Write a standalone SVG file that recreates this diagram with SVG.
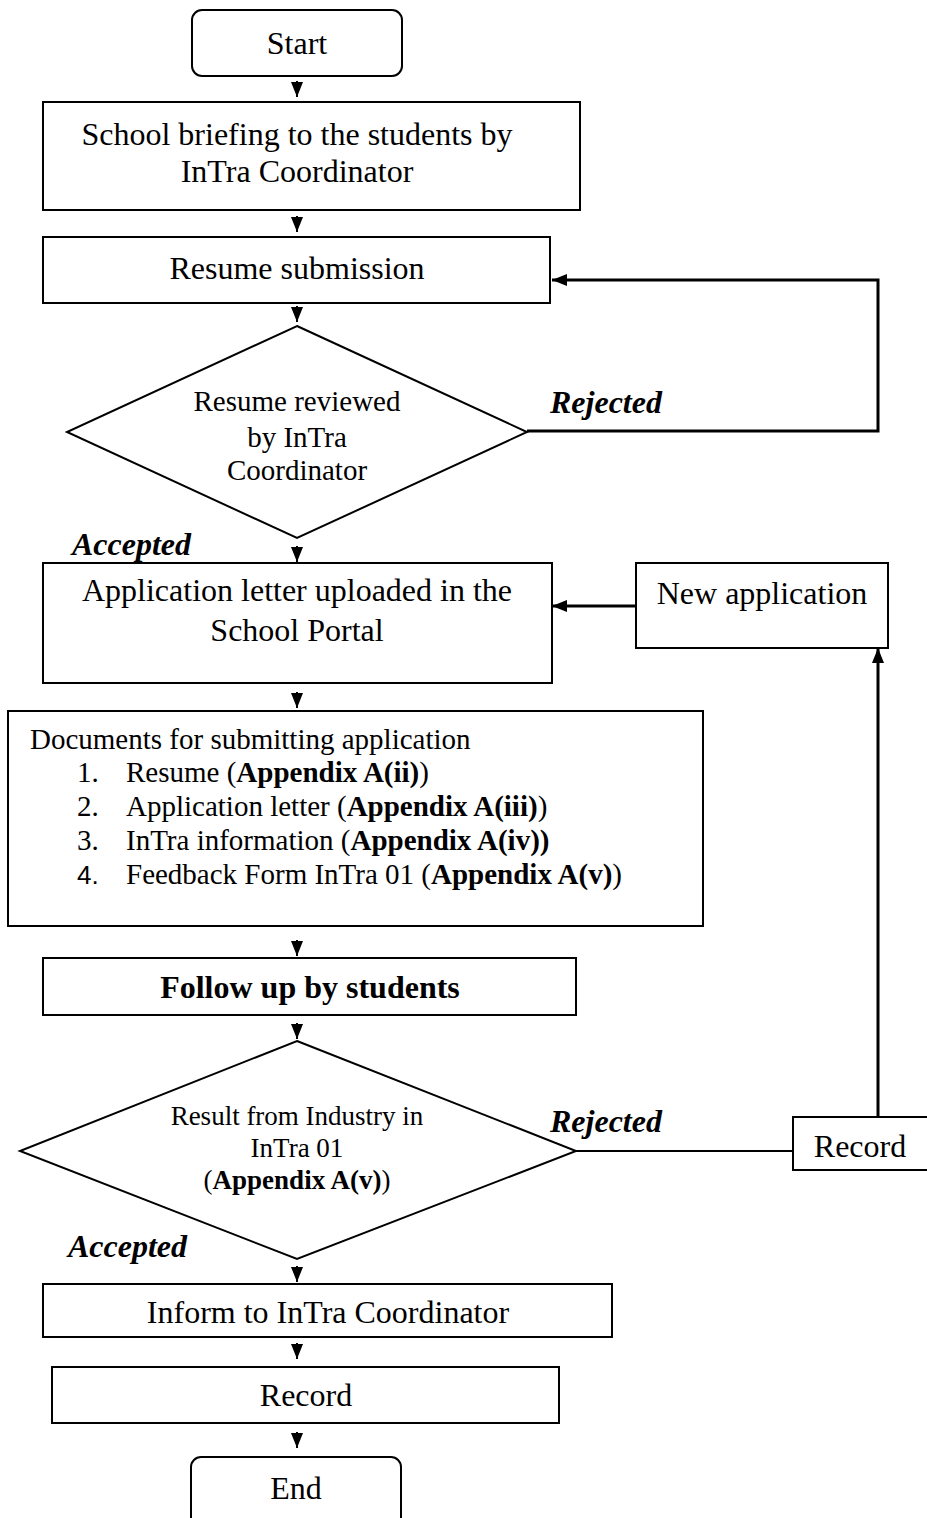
<svg xmlns="http://www.w3.org/2000/svg" width="927" height="1518" viewBox="0 0 927 1518">
<style>
  .box { fill: #fff; stroke: #000; stroke-width: 2; }
  .t { font-family: "Liberation Serif", "Times New Roman", serif; font-size: 32px; fill: #000; }
  .td { font-family: "Liberation Serif", "Times New Roman", serif; font-size: 29px; fill: #000; }
  .ts1 { font-family: "Liberation Serif", "Times New Roman", serif; font-size: 29px; fill: #000; }
  .ts2 { font-family: "Liberation Serif", "Times New Roman", serif; font-size: 27px; fill: #000; }
  .lbl { font-family: "Liberation Serif", "Times New Roman", serif; font-size: 32px; font-weight: bold; font-style: italic; fill: #000; }
  .b { font-weight: bold; }
  .c { text-anchor: middle; }
  .ln { fill: none; stroke: #000; stroke-width: 3; }
  .ln2 { fill: none; stroke: #000; stroke-width: 2; }
</style>
<defs>
  <marker id="arr" viewBox="0 0 15 12" refX="15" refY="6" markerWidth="15" markerHeight="12" markerUnits="userSpaceOnUse" orient="auto">
    <path d="M0,0 L15,6 L0,12 z" fill="#000"/>
  </marker>
</defs>
<rect width="927" height="1518" fill="#fff"/>

<g id="start">
  <rect class="box" x="192" y="10" width="210" height="66" rx="10"/>
  <text class="t c" x="297" y="54">Start</text>
</g>
<g id="briefing">
  <rect class="box" x="43" y="102" width="537" height="108"/>
  <text class="t c" x="297" y="145">School briefing to the students by</text>
  <text class="t c" x="297" y="182">InTra Coordinator</text>
</g>
<g id="resume">
  <rect class="box" x="43" y="237" width="507" height="66"/>
  <text class="t c" x="297" y="279">Resume submission</text>
</g>
<g id="review">
  <polygon class="box" points="297,326 527,432 297,538 67,432"/>
  <text class="ts1 c" x="297" y="411">Resume reviewed</text>
  <text class="ts1 c" x="297" y="447">by InTra</text>
  <text class="ts1 c" x="297" y="480">Coordinator</text>
</g>
<g id="application">
  <rect class="box" x="43" y="563" width="509" height="120"/>
  <text class="t c" x="297" y="601">Application letter uploaded in the</text>
  <text class="t c" x="297" y="641">School Portal</text>
</g>
<g id="newapp">
  <rect class="box" x="636" y="563" width="252" height="85"/>
  <text class="t c" x="762" y="604">New application</text>
</g>
<g id="documents">
  <rect class="box" x="8" y="711" width="695" height="215"/>
  <text class="td" x="30" y="749">Documents for submitting application</text>
  <text class="td" x="77" y="782">1.</text>
  <text class="td" x="126" y="782">Resume (<tspan class="b">Appendix A(ii)</tspan>)</text>
  <text class="td" x="77" y="816">2.</text>
  <text class="td" x="126" y="816">Application letter (<tspan class="b">Appendix A(iii)</tspan>)</text>
  <text class="td" x="77" y="850">3.</text>
  <text class="td" x="126" y="850">InTra information (<tspan class="b">Appendix A(iv))</tspan></text>
  <text class="td" x="77" y="884" style="font-family: 'Liberation Sans', Arial, sans-serif; font-size: 26px">4.</text>
  <text class="td" x="126" y="884">Feedback Form InTra 01 (<tspan class="b">Appendix A(v)</tspan>)</text>
</g>
<g id="followup">
  <rect class="box" x="43" y="958" width="533" height="57"/>
  <text class="t c b" x="310" y="998">Follow up by students</text>
</g>
<g id="result">
  <polygon class="box" points="297,1041 576,1151 297,1259 20,1151"/>
  <text class="ts2 c" x="297" y="1125">Result from Industry in</text>
  <text class="ts2 c" x="297" y="1157">InTra 01</text>
  <text class="ts2 c" x="297" y="1189">(<tspan class="b">Appendix A(v)</tspan>)</text>
</g>
<g id="record-side">
  <rect class="box" x="793" y="1117" width="135" height="53"/>
  <text class="t c" x="860" y="1157">Record</text>
</g>
<g id="inform">
  <rect class="box" x="43" y="1284" width="569" height="53"/>
  <text class="t c" x="328" y="1323">Inform to InTra Coordinator</text>
</g>
<g id="record">
  <rect class="box" x="52" y="1367" width="507" height="56"/>
  <text class="t c" x="306" y="1406">Record</text>
</g>
<g id="end">
  <rect class="box" x="191" y="1457" width="210" height="80" rx="10"/>
  <text class="t c" x="296" y="1499">End</text>
</g>

<g id="connectors">
  <line class="ln2" x1="297" y1="81" x2="297" y2="97" marker-end="url(#arr)"/>
  <line class="ln2" x1="297" y1="216" x2="297" y2="232" marker-end="url(#arr)"/>
  <line class="ln2" x1="297" y1="306" x2="297" y2="322" marker-end="url(#arr)"/>
  <line class="ln2" x1="297" y1="546" x2="297" y2="562" marker-end="url(#arr)"/>
  <line class="ln2" x1="297" y1="692" x2="297" y2="708" marker-end="url(#arr)"/>
  <line class="ln2" x1="297" y1="940" x2="297" y2="956" marker-end="url(#arr)"/>
  <line class="ln2" x1="297" y1="1023" x2="297" y2="1039" marker-end="url(#arr)"/>
  <line class="ln2" x1="297" y1="1266" x2="297" y2="1282" marker-end="url(#arr)"/>
  <line class="ln2" x1="297" y1="1343" x2="297" y2="1359" marker-end="url(#arr)"/>
  <line class="ln2" x1="297" y1="1432" x2="297" y2="1448" marker-end="url(#arr)"/>
  <polyline class="ln" points="527,431 878,431 878,280 552,280" marker-end="url(#arr)"/>
  <line class="ln" x1="636" y1="606" x2="552" y2="606" marker-end="url(#arr)"/>
  <line class="ln" x1="878" y1="1117" x2="878" y2="648" marker-end="url(#arr)"/>
  <line class="ln2" x1="576" y1="1151" x2="793" y2="1151"/>
  <text class="lbl" x="550" y="413">Rejected</text>
  <text class="lbl" x="72" y="555">Accepted</text>
  <text class="lbl" x="550" y="1132">Rejected</text>
  <text class="lbl" x="68" y="1257">Accepted</text>
</g>
</svg>
